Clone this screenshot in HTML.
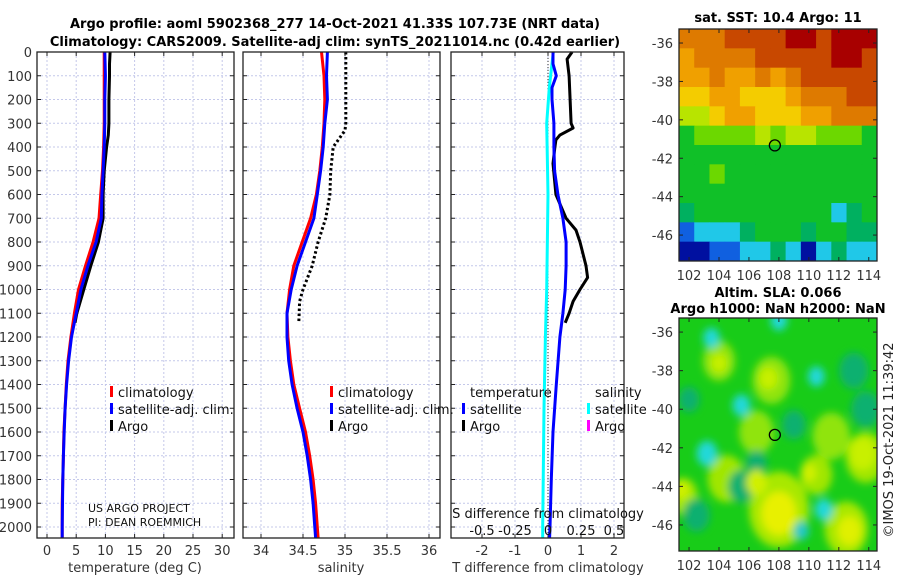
<!DOCTYPE html>
<html><head><meta charset="utf-8"><title>Argo profile</title>
<style>
html,body{margin:0;padding:0;background:#fff;}
svg{display:block;font-family:"DejaVu Sans","Liberation Sans",sans-serif;}
</style></head>
<body>
<svg id="fig" width="900" height="580" viewBox="0 0 900 580" xmlns="http://www.w3.org/2000/svg">
<defs>
<filter id="blur" x="-10%" y="-10%" width="120%" height="120%"><feGaussianBlur stdDeviation="4"/></filter>
<clipPath id="clip2"><rect x="679" y="318" width="198" height="233"/></clipPath>
</defs>
<text x="335" y="28" text-anchor="middle" font-size="13" font-weight="bold">Argo profile: aoml 5902368_277 14-Oct-2021 41.33S 107.73E (NRT data)</text>
<text x="335" y="46" text-anchor="middle" font-size="13" font-weight="bold">Climatology: CARS2009. Satellite-adj clim: synTS_20211014.nc (0.42d earlier)</text>
<text x="778" y="22" text-anchor="middle" font-size="13" font-weight="bold">sat. SST: 10.4 Argo: 11</text>
<text x="778" y="297" text-anchor="middle" font-size="13" font-weight="bold">Altim. SLA: 0.066</text>
<text x="778" y="313" text-anchor="middle" font-size="13" font-weight="bold">Argo h1000: NaN h2000: NaN</text>
<text transform="translate(893,440) rotate(-90)" text-anchor="middle" font-size="13" fill="#222">©IMOS 19-Oct-2021 11:39:42</text>
<g id="plots"></g>
</svg>
<script>
// ---- depth axis
const depthTicks = [0,100,200,300,400,500,600,700,800,900,1000,1100,1200,1300,1400,1500,1600,1700,1800,1900,2000];
// ---- temperature panel data
const tempTicks = [0,5,10,15,20,25,30];
const tClimDepth = [0,100,200,300,400,500,600,700,800,900,1000,1100,1200,1300,1400,1500,1600,1700,1800,1900,2000,2046];
const tClim      = [9.8,9.8,9.8,9.8,9.7,9.5,9.2,8.9,7.9,6.6,5.4,4.7,4.1,3.6,3.3,3.1,2.9,2.8,2.7,2.6,2.6,2.6];
const tSat       = [9.9,10.0,9.9,9.9,9.8,9.6,9.4,9.3,8.4,7.0,5.8,5.0,4.2,3.7,3.35,3.1,2.95,2.8,2.7,2.65,2.6,2.6];
const tArgoDepth = [0,50,100,200,300,350,400,500,600,700,800,900,1000,1100,1140];
const tArgo      = [10.8,10.7,10.7,10.6,10.6,10.5,10.2,9.8,9.6,9.6,8.8,7.5,6.3,5.1,4.8];
// ---- salinity panel data
const salTicks = [34,34.5,35,35.5,36];
const sClimDepth = [0,100,200,300,400,500,600,700,800,900,1000,1100,1200,1300,1400,1500,1600,1700,1800,1900,2000,2046];
const sClim      = [34.72,34.75,34.76,34.75,34.73,34.70,34.66,34.59,34.49,34.39,34.34,34.31,34.32,34.35,34.39,34.46,34.53,34.58,34.62,34.65,34.67,34.68];
const sSat       = [34.79,34.78,34.79,34.76,34.74,34.71,34.67,34.63,34.53,34.43,34.36,34.31,34.31,34.33,34.37,34.43,34.50,34.55,34.59,34.62,34.64,34.65];
const sArgoDepth = [0,100,200,300,330,370,400,500,600,700,800,900,1000,1050,1140];
const sArgo      = [35.01,35.01,35.01,35.01,35.0,34.92,34.86,34.83,34.82,34.77,34.68,34.61,34.50,34.46,34.45];
// ---- difference panel data
const dTTicks = [-2,-1,0,1,2];
const dSTicks = [-0.5,-0.25,0,0.25,0.5];
const dTSatDepth = [0,50,100,150,200,300,400,500,600,700,800,900,1000,1100,1200,1400,1600,1800,2000,2046];
const dTSat      = [0.15,0.15,0.25,0.12,0.12,0.18,0.18,0.2,0.3,0.45,0.55,0.55,0.52,0.45,0.36,0.25,0.15,0.1,0.06,0.05];
const dSSatDepth = [0,150,300,600,1000,1200,1500,2000,2046];
const dSSat      = [0.04,0.01,-0.01,0.0,-0.01,-0.02,-0.03,-0.04,-0.04];
const dTArgoDepth = [0,30,100,200,300,320,350,370,400,470,600,700,750,800,900,950,1000,1050,1100,1140];
const dTArgo      = [0.73,0.58,0.64,0.67,0.7,0.76,0.36,0.24,0.21,0.15,0.24,0.55,0.85,0.97,1.15,1.2,0.97,0.76,0.64,0.52];
// ---- SST map (colour class per cell; rows top->bottom)
const sstLon = [101.33,114.55];
const sstLat = [-35.27,-47.35];
const sstRows = [
 [2,2,2,1,1,1,1,0,0,1,0,0,0],
 [3,2,2,2,2,1,1,1,1,1,0,0,1],
 [3,3,2,3,3,2,3,2,1,1,1,1,1],
 [4,4,3,3,4,4,4,3,2,2,2,1,1],
 [5,5,4,3,3,4,4,4,3,3,2,2,2],
 [7,6,6,6,6,5,6,5,5,6,6,6,7],
 [7,7,7,7,7,7,7,7,7,7,7,7,7],
 [7,7,6,7,7,7,7,7,7,7,7,7,7],
 [7,7,7,7,7,7,7,7,7,7,7,7,7],
 [8,7,7,7,7,7,7,7,7,7,9,8,7],
 [10,9,9,9,8,7,7,7,8,7,7,8,8],
 [11,11,10,10,9,9,8,9,11,9,8,9,9]
];
const sstPalette = ['#a80000','#c84800','#de7a00','#f0a000','#f4cc00','#b8e400','#6cd800','#10c028','#00b060','#20c8e8','#1060e0','#0010a0'];
// ---- SLA map blobs (drawn in order: light-green, teal, yellow, cyan)
const slaBlobLon = [104,107.5,106.5,108,112.5,113.8,101.6,111.5,104.5,110.5,
                    113,113.8,105.5,102.5,109,102,106.5,
                    104,107.3,108,106.5,112.7,101.5,113.6,110,
                    103.5,110.5,105.5,103.2,108,111,109.5];
const slaBlobLat = [-37.5,-38.5,-41.2,-45.2,-46.2,-42.5,-44.5,-41.4,-43.6,-43.4,
                    -38,-40,-44,-45.5,-40.8,-39.5,-42.8,
                    -37.6,-38.4,-45.4,-43.8,-46.3,-44.2,-42.3,-43.3,
                    -36.3,-38.3,-39.8,-42.3,-35.4,-45.2,-46.3];
const slaBlobR   = [1.0,1.2,1.1,2.0,1.4,1.3,0.9,1.2,1.2,1.0,
                    0.9,0.9,0.8,0.8,0.7,0.6,0.6,
                    0.4,0.5,1.1,0.6,0.7,0.4,0.8,0.4,
                    0.45,0.45,0.5,0.6,0.45,0.5,0.4];
const slaBlobCol = ['#90e410','#90e410','#90e410','#a8e800','#a8e800','#a0e600','#a0e600','#90e410','#a0e600','#a0e600',
                    '#10b070','#10b070','#10b070','#10b070','#10b070','#10b070','#10b070',
                    '#c8f000','#c8f000','#e8f000','#d0f000','#e0f000','#d0f000','#c8f000','#d0f000',
                    '#20d8d8','#20d8d8','#20d8d8','#20d8d8','#20d8d8','#20d8d8','#20c8c8'];
const argoLon = 107.73, argoLat = -41.33;
const mapLonTicks = [102,104,106,108,110,112,114];
const mapLatTicks = [-36,-38,-40,-42,-44,-46];

const NS='http://www.w3.org/2000/svg';
const root=document.getElementById('plots');
function el(tag,attrs,parent){const e=document.createElementNS(NS,tag);for(const k in attrs)e.setAttribute(k,attrs[k]);(parent||root).appendChild(e);return e;}
const Y0=52, YS=(527-52)/2000, YB=538;
const yD=d=>Y0+d*YS;
const xT=t=>47+t*5.84;
const xS=s=>261+(s-34)*84;
const xDT=v=>548+v*33;
const xDS=v=>548+v*132;

function panel(name,x0,x1,xTicks,xf,labelFn){
  const g=el('g',{});
  
  
  depthTicks.forEach(d=>{const l=el('line',{x1:x0,x2:x1,y1:yD(d),y2:yD(d),stroke:'#c4c8ea','stroke-width':1,'stroke-dasharray':'2,2'},g);
    });
  xTicks.forEach(v=>{const l=el('line',{x1:xf(v),x2:xf(v),y1:Y0,y2:YB,stroke:'#c4c8ea','stroke-width':1,'stroke-dasharray':'2,2'},g);
    
    el('line',{x1:xf(v),x2:xf(v),y1:YB,y2:YB-4,stroke:'#222'},g);el('line',{x1:xf(v),x2:xf(v),y1:Y0,y2:Y0+4,stroke:'#222'},g);
    if(labelFn){const t=el('text',{x:xf(v),y:555,'text-anchor':'middle','font-size':13,fill:'#333'},g);t.textContent=labelFn(v);
      }
  });
  depthTicks.forEach(d=>{el('line',{x1:x0,x2:x0+4,y1:yD(d),y2:yD(d),stroke:'#222'},g);el('line',{x1:x1,x2:x1-4,y1:yD(d),y2:yD(d),stroke:'#222'},g);});
  return g;
}
function frame(g,x0,x1){const r=el('rect',{x:x0,y:Y0,width:x1-x0,height:YB-Y0,fill:'none',stroke:'#222','stroke-width':1.3},g);
  }
function line(g,xs,ds,xf,color,name,dash,w){
  const pts=xs.map((v,i)=>xf(v).toFixed(1)+','+yD(ds[i]).toFixed(1)).join(' ');
  const p=el('polyline',{points:pts,fill:'none',stroke:color,'stroke-width':w||3,'stroke-linejoin':'round'},g);
  if(dash)p.setAttribute('stroke-dasharray',dash);
  
  
  return p;
}
function txt(g,x,y,s,name,opts){const t=el('text',Object.assign({x:x,y:y,'font-size':13,fill:'#111'},opts||{}),g);t.textContent=s;
  return t;}
function legMark(g,x,y,c,name){const r=el('rect',{x:x,y:y-11,width:3,height:11,fill:c},g);}

// Panel 1 temperature
let g1=panel('temperature-panel',37,234,tempTicks,xT,v=>String(v));
depthTicks.forEach(d=>txt(g1,32,yD(d)+5,String(d),'y-tick-label',{'text-anchor':'end',fill:'#333'}));
line(g1,tArgo,tArgoDepth,xT,'#000','temp-argo-line');
line(g1,tClim,tClimDepth,xT,'#ff0000','temp-climatology-line');
line(g1,tSat,tClimDepth,xT,'#0000ff','temp-satellite-line');
frame(g1,37,234);
txt(g1,135,572,'temperature (deg C)','x-axis-title',{'text-anchor':'middle',fill:'#333'});
legMark(g1,110,397,'#ff0000','legend-climatology-marker');txt(g1,118,397,'climatology','legend-climatology');
legMark(g1,110,414,'#0000ff','legend-satellite-marker');txt(g1,118,414,'satellite-adj. clim.','legend-satellite');
legMark(g1,110,431,'#000','legend-argo-marker');txt(g1,118,431,'Argo','legend-argo');
txt(g1,88,512,'US ARGO PROJECT','project-note',{'font-size':11});
txt(g1,88,526,'PI: DEAN ROEMMICH','pi-note',{'font-size':11});

// Panel 2 salinity
let g2=panel('salinity-panel',243,440,salTicks,xS,v=>String(v));
line(g2,sArgo,sArgoDepth,xS,'#000','sal-argo-line','2.5,2.5');
line(g2,sClim,sClimDepth,xS,'#ff0000','sal-climatology-line');
line(g2,sSat,sClimDepth,xS,'#0000ff','sal-satellite-line');
frame(g2,243,440);
txt(g2,341,572,'salinity','x-axis-title',{'text-anchor':'middle',fill:'#333'});
legMark(g2,330,397,'#ff0000','legend-climatology-marker');txt(g2,338,397,'climatology','legend-climatology');
legMark(g2,330,414,'#0000ff','legend-satellite-marker');txt(g2,338,414,'satellite-adj. clim.','legend-satellite');
legMark(g2,330,431,'#000','legend-argo-marker');txt(g2,338,431,'Argo','legend-argo');

// Panel 3 differences
let g3=panel('difference-panel',451,624,dTTicks,xDT,v=>String(v));
const zl=el('line',{x1:xDT(0),x2:xDT(0),y1:Y0,y2:YB,stroke:'#333','stroke-width':1,'stroke-dasharray':'1,2'},g3);

line(g3,dTArgo,dTArgoDepth,xDT,'#000','tdiff-argo-line');
line(g3,dSSat,dSSatDepth,xDS,'#00ffff','sdiff-satellite-line');
line(g3,dTSat,dTSatDepth,xDT,'#0000ff','tdiff-satellite-line');
frame(g3,451,624);
txt(g3,548,572,'T difference from climatology','x-axis-title',{'text-anchor':'middle',fill:'#333'});
txt(g3,548,518,'S difference from climatology','s-axis-title',{'text-anchor':'middle',fill:'#111'});
dSTicks.forEach(v=>txt(g3,xDS(v),535,String(v),'s-tick-label',{'text-anchor':'middle'}));
txt(g3,470,397,'temperature','legend-temperature-header');
legMark(g3,462,414,'#0000ff','legend-tsat-marker');txt(g3,470,414,'satellite','legend-tsat');
legMark(g3,462,431,'#000','legend-targo-marker');txt(g3,470,431,'Argo','legend-targo');
txt(g3,595,397,'salinity','legend-salinity-header');
legMark(g3,587,414,'#00ffff','legend-ssat-marker');txt(g3,595,414,'satellite','legend-ssat');
legMark(g3,587,431,'#ff00ff','legend-sargo-marker');txt(g3,595,431,'Argo','legend-sargo');

// Maps
function mapAxes(top,bot,lonR,latR){
  const mx=l=>679+(l-lonR[0])/(lonR[1]-lonR[0])*198;
  const my=l=>top+(l-latR[0])/(latR[1]-latR[0])*(bot-top);
  return {mx,my};
}
function mapFrame(g,top,bot,mx,my){
  const r=el('rect',{x:679,y:top,width:198,height:bot-top,fill:'none',stroke:'#222','stroke-width':1.3},g);
  
  mapLonTicks.forEach(l=>{el('line',{x1:mx(l),x2:mx(l),y1:bot,y2:bot-4,stroke:'#222'},g);el('line',{x1:mx(l),x2:mx(l),y1:top,y2:top+4,stroke:'#222'},g);
    txt(g,mx(l),bot+19,String(l),'map-lon-label',{'text-anchor':'middle',fill:'#333'});});
  mapLatTicks.forEach(l=>{el('line',{x1:679,x2:683,y1:my(l),y2:my(l),stroke:'#222'},g);el('line',{x1:877,x2:873,y1:my(l),y2:my(l),stroke:'#222'},g);
    txt(g,673,my(l)+5,String(l),'map-lat-label',{'text-anchor':'end',fill:'#333'});});
  const c=el('circle',{cx:mx(argoLon),cy:my(argoLat),r:5.5,fill:'none',stroke:'#000','stroke-width':1.3},g);
  
}
// SST
let gm1=el('g',{});
{const a=mapAxes(29,261,sstLon,sstLat);
 const nr=sstRows.length,nc=sstRows[0].length,cw=198/nc,ch=232/nr;
 sstRows.forEach((row,i)=>row.forEach((v,j)=>{const r=el('rect',{x:(679+j*cw).toFixed(2),y:(29+i*ch).toFixed(2),width:(cw+0.5).toFixed(2),height:(ch+0.5).toFixed(2),fill:sstPalette[v]},gm1);
   }));
 mapFrame(gm1,29,261,a.mx,a.my);}
// SLA
let gm2=el('g',{});
{const a=mapAxes(318,551,sstLon,sstLat);
 const cg=el('g',{'clip-path':'url(#clip2)'},gm2);
 el('rect',{x:679,y:318,width:198,height:233,fill:'#18cc18'},cg);
 const bg=el('g',{filter:'url(#blur)'},cg);
 slaBlobLon.forEach((l,i)=>{const e=el('ellipse',{cx:a.mx(l),cy:a.my(slaBlobLat[i]),rx:slaBlobR[i]*14+2,ry:slaBlobR[i]*18+2,fill:slaBlobCol[i]},bg);
   });
 mapFrame(gm2,318,551,a.mx,a.my);}
</script>
</body></html>
